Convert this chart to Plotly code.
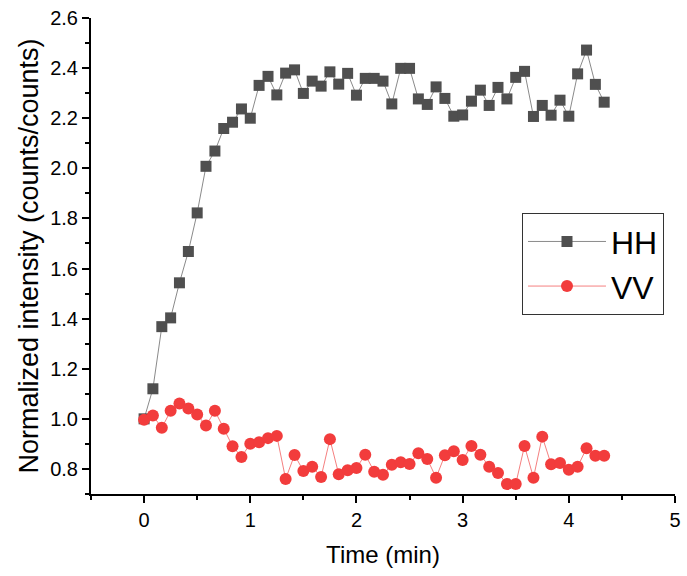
import plotly.graph_objects as go

time_min = [0, 0.083, 0.167, 0.25, 0.333, 0.417, 0.5, 0.583, 0.667, 0.75,
            0.833, 0.917, 1.0, 1.083, 1.167, 1.25, 1.333, 1.417, 1.5, 1.583,
            1.667, 1.75, 1.833, 1.917, 2.0, 2.083, 2.167, 2.25, 2.333, 2.417,
            2.5, 2.583, 2.667, 2.75, 2.833, 2.917, 3.0, 3.083, 3.167, 3.25,
            3.333, 3.417, 3.5, 3.583, 3.667, 3.75, 3.833, 3.917, 4.0, 4.083,
            4.167, 4.25, 4.333]

hh = [1.00, 1.12, 1.368, 1.403, 1.543, 1.668, 1.822, 2.008, 2.069, 2.159,
      2.184, 2.237, 2.20, 2.331, 2.367, 2.293, 2.38, 2.393, 2.299, 2.348,
      2.328, 2.385, 2.336, 2.379, 2.292, 2.359, 2.359, 2.348, 2.257, 2.399,
      2.399, 2.277, 2.255, 2.325, 2.279, 2.208, 2.213, 2.268, 2.312, 2.251,
      2.323, 2.277, 2.363, 2.387, 2.207, 2.251, 2.212, 2.272, 2.208, 2.377,
      2.472, 2.335, 2.264]

vv = [0.996, 1.013, 0.964, 1.032, 1.061, 1.041, 1.017, 0.973, 1.032, 0.96,
      0.891, 0.848, 0.901, 0.907, 0.923, 0.932, 0.76, 0.856, 0.792, 0.809,
      0.768, 0.919, 0.779, 0.795, 0.804, 0.857, 0.789, 0.777, 0.817, 0.827,
      0.82, 0.863, 0.84, 0.765, 0.855, 0.871, 0.836, 0.892, 0.857, 0.809,
      0.784, 0.74, 0.74, 0.892, 0.765, 0.929, 0.819, 0.824, 0.797, 0.809,
      0.883, 0.853, 0.853]

FONT = "Arial, Liberation Sans, sans-serif"

fig = go.Figure()
fig.add_trace(go.Scatter(
    x=time_min, y=hh, name="HH", mode="lines+markers",
    line=dict(color="#8a8a8a", width=1),
    marker=dict(symbol="square", size=11, color="#4f4f4f"),
))
fig.add_trace(go.Scatter(
    x=time_min, y=vv, name="VV", mode="lines+markers",
    line=dict(color="#f58080", width=1),
    marker=dict(symbol="circle", size=12, color="#f23c3c"),
))

axis_common = dict(
    showline=True, linecolor="black", linewidth=2,
    ticks="outside", ticklen=7, tickwidth=1.5, tickcolor="black",
    showgrid=False, zeroline=False, mirror=False,
    tickfont=dict(family=FONT, size=20, color="black"),
)

fig.update_xaxes(
    range=[-0.5, 5], dtick=1, tick0=0,
    minor=dict(ticks="outside", ticklen=4, tickwidth=1.5, tickcolor="black", dtick=0.5),
    title_text="Time (min)", title_standoff=16,
    title_font=dict(family=FONT, size=24, color="black"),
    **axis_common,
)
fig.update_yaxes(
    range=[0.7, 2.6], dtick=0.2, tick0=0.8, tickformat=".1f",
    minor=dict(ticks="outside", ticklen=4, tickwidth=1.5, tickcolor="black", dtick=0.1),
    title_text="Normalized intensity (counts/counts)", title_standoff=4,
    title_font=dict(family=FONT, size=27, color="black"),
    **axis_common,
)

fig.update_layout(
    width=687, height=576,
    margin=dict(l=91, r=6, t=18, b=82),
    plot_bgcolor="white", paper_bgcolor="white",
    legend=dict(
        x=0.738, y=0.59, xanchor="left", yanchor="top",
        font=dict(family=FONT, size=32, color="black"),
        bordercolor="#333333", borderwidth=1, bgcolor="white",
        itemwidth=78, tracegroupgap=0,
    ),
    showlegend=True,
)

fig.write_html("out.html")
